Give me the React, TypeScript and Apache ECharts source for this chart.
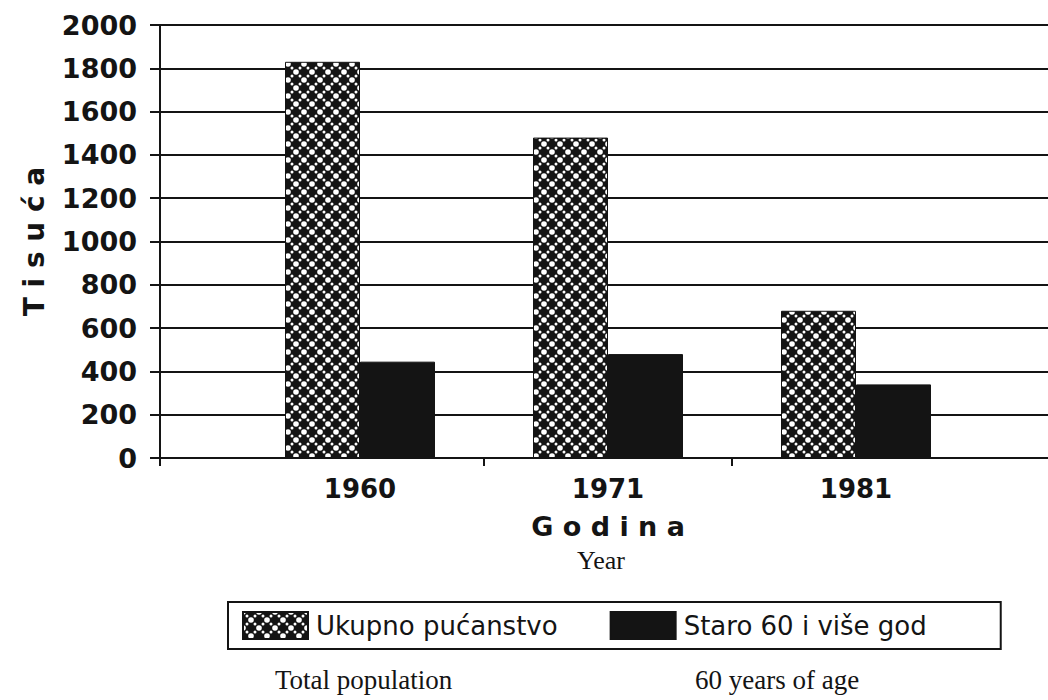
import React, { useEffect, useRef } from "react";
import * as echarts from "echarts";

const years = ["1960", "1971", "1981"];
const totalPopulation = [1830, 1480, 680];
const aged60Plus = [445, 480, 340];
const seriesNames = ["Ukupno pućanstvo", "Staro 60 i više god"];
const yTitle = "T i s u ć a";
const xTitle = "G o d i n a";
const xTitleEn = "Year";
const legendEn = ["Total population", "60 years of age"];

const FONT = "DejaVu Sans";
const SERIF = "Liberation Serif";
const INK = "#141414";

function makePattern(): HTMLCanvasElement {
  const c = document.createElement("canvas");
  const s = 16;
  c.width = s;
  c.height = s;
  const g = c.getContext("2d")!;
  g.fillStyle = INK;
  g.fillRect(0, 0, s, s);
  g.fillStyle = "#ffffff";
  const big = [
    [0, 0], [s, 0], [0, s], [s, s], [s / 2, s / 2],
  ];
  big.forEach(([x, y]) => {
    g.beginPath();
    g.arc(x, y, 2.8, 0, Math.PI * 2);
    g.fill();
  });
  const small = [
    [4, 4], [12, 4], [4, 12], [12, 12],
  ];
  small.forEach(([x, y]) => {
    g.beginPath();
    g.arc(x, y, 1.5, 0, Math.PI * 2);
    g.fill();
  });
  return c;
}

export default function App() {
  const ref = useRef<HTMLDivElement>(null);
  useEffect(() => {
    document.body.style.margin = "0";
    const chart = echarts.init(ref.current!, null, { renderer: "svg" });
    const pattern = { image: makePattern(), repeat: "repeat" };
    chart.setOption({
      animation: false,
      backgroundColor: "#ffffff",
      grid: [
        { left: 160, right: 0, top: 25, height: 433 },
        { left: 236, width: 744, top: 25, height: 433 },
      ],
      xAxis: [
        {
          gridIndex: 0,
          type: "category",
          position: "bottom",
          data: ["", ""],
          boundaryGap: false,
          axisLine: { show: false },
          axisLabel: { show: false },
          axisTick: {
            show: true,
            length: 8,
            interval: (i: number) => i === 0,
            lineStyle: { color: INK, width: 2 },
          },
          splitLine: { show: false },
        },
        {
          gridIndex: 1,
          type: "category",
          position: "bottom",
          data: years,
          axisLine: { show: false },
          axisTick: { show: false },
          axisLabel: {
            margin: 18,
            fontFamily: FONT,
            fontWeight: "bold",
            fontSize: 26,
            color: INK,
          },
          name: xTitle,
          nameLocation: "middle",
          nameGap: 55,
          nameTextStyle: { fontFamily: FONT, fontWeight: "bold", fontSize: 27, color: INK },
        },
        {
          gridIndex: 1,
          type: "category",
          position: "bottom",
          offset: 0,
          data: ["", "", "", ""],
          boundaryGap: false,
          axisLine: { show: false },
          axisLabel: { show: false },
          axisTick: {
            show: true,
            length: 8,
            interval: (i: number) => i === 1 || i === 2,
            lineStyle: { color: INK, width: 2 },
          },
        },
      ],
      yAxis: [
        {
          gridIndex: 0,
          type: "value",
          min: 0,
          max: 2000,
          interval: 200,
          axisLine: { show: true, lineStyle: { color: INK, width: 2 } },
          axisTick: { show: true, length: 10, lineStyle: { color: INK, width: 2 } },
          axisLabel: {
            margin: 23,
            fontFamily: FONT,
            fontWeight: "bold",
            fontSize: 27,
            color: INK,
            formatter: (v: number) => String(v),
          },
          splitLine: { show: true, lineStyle: { color: INK, width: 2 } },
          name: yTitle,
          nameLocation: "middle",
          nameRotate: 90,
          nameGap: 112,
          nameTextStyle: { fontFamily: FONT, fontWeight: "bold", fontSize: 28, color: INK },
        },
        {
          gridIndex: 1,
          type: "value",
          min: 0,
          max: 2000,
          interval: 200,
          show: false,
        },
      ],
      legend: {
        data: seriesNames,
        left: 228,
        top: 602,
        orient: "horizontal",
        icon: "rect",
        itemWidth: 65,
        itemHeight: 27,
        itemGap: 52,
        padding: [9, 74, 9, 14],
        borderColor: INK,
        borderWidth: 2,
        textStyle: { fontFamily: FONT, fontSize: 26, color: INK, padding: [0, 0, 0, 3] },
      },
      graphic: [
        {
          type: "text",
          left: 577,
          top: 547,
          style: { text: xTitleEn, font: `26px "${SERIF}"`, fill: INK },
        },
        {
          type: "text",
          left: 275,
          top: 666,
          style: { text: legendEn[0], font: `27px "${SERIF}"`, fill: INK },
        },
        {
          type: "text",
          left: 695,
          top: 666,
          style: { text: legendEn[1], font: `27px "${SERIF}"`, fill: INK },
        },
      ],
      series: [
        {
          name: seriesNames[0],
          type: "bar",
          xAxisIndex: 1,
          yAxisIndex: 1,
          data: totalPopulation,
          barWidth: 75,
          barGap: "0%",
          itemStyle: { color: pattern, borderColor: INK, borderWidth: 1 },
        },
        {
          name: seriesNames[1],
          type: "bar",
          xAxisIndex: 1,
          yAxisIndex: 1,
          data: aged60Plus,
          barWidth: 75,
          barGap: "0%",
          itemStyle: { color: INK, borderColor: INK, borderWidth: 1 },
        },
      ],
    });
    return () => chart.dispose();
  }, []);
  return (
    <div
      ref={ref}
      style={{ position: "absolute", left: 0, top: 0, width: 1048, height: 700 }}
    />
  );
}
